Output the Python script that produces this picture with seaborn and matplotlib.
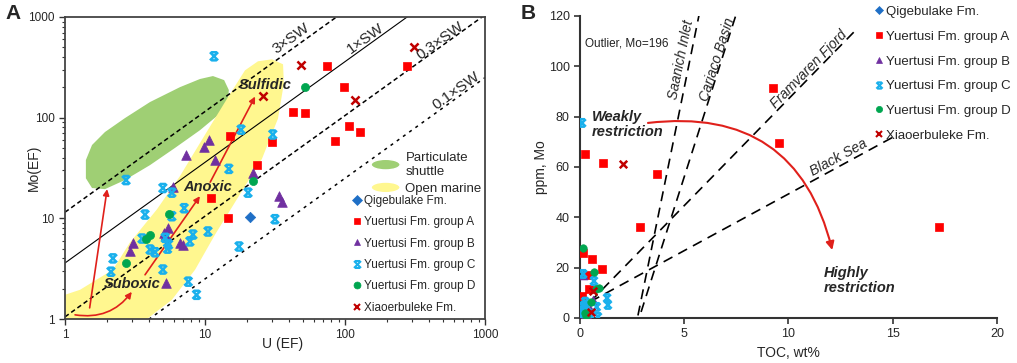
import numpy as np
import matplotlib
matplotlib.use("Agg")
import matplotlib.pyplot as plt
import seaborn as sns
from matplotlib.path import Path
from matplotlib.markers import MarkerStyle
from matplotlib.patches import Polygon, Ellipse
from matplotlib.lines import Line2D
from matplotlib.legend_handler import HandlerPatch
from matplotlib.ticker import FuncFormatter, LogLocator, NullFormatter

sns.set_style("ticks")
plt.rcParams["font.family"] = ["Liberation Sans", "DejaVu Sans"]

# ---------------- Panel A: U(EF) vs Mo(EF) ----------------
qige_a_u = [21, 5.3]
qige_a_mo = [10.2, 6.2]
grpA_a_u = [15.1, 23.5, 11.0, 14.6, 30, 42.4, 52, 74, 98, 106, 128, 85, 276]
grpA_a_mo = [66, 34, 15.8, 10.0, 57, 114, 112, 324, 203, 83, 72, 59, 324]
grpB_a_u = [7.3, 9.8, 10.7, 11.8, 22, 5.9, 33.8, 35.5, 5.45, 5.1, 6.6, 7.0, 3.06, 2.9, 5.3]
grpB_a_mo = [43, 51, 60, 38, 28, 20.4, 16.6, 14.4, 8.1, 7.2, 5.75, 5.4, 5.75, 4.7, 2.3]
grpC_a_u = [11.6, 18.1, 14.8, 30.5, 2.73, 5.0, 5.8, 3.73, 5.8, 7.1, 2.2, 2.13, 3.55, 4.05,
            4.4, 5.2, 5.4, 5.5, 5.0, 7.6, 8.7, 7.8, 8.2, 10.5, 17.5, 20.3, 31.6]
grpC_a_mo = [407, 76, 31, 68, 24, 20, 18, 10.9, 10.5, 12.6, 4.0, 2.95, 6.3, 4.9,
             4.6, 6.4, 5.0, 5.5, 3.1, 2.35, 1.74, 5.9, 6.9, 7.4, 5.25, 18, 9.8]
grpD_a_u = [5.55, 4.05, 3.8, 2.73, 22, 52]
grpD_a_mo = [11, 6.9, 6.2, 3.6, 23.4, 200]
xiao_a_u = [48.5, 310, 118, 26]
xiao_a_mo = [330, 500, 150, 165]

# seawater Mo/U reference lines
sw_ratios = [11.5, 3.6, 1.05, 0.25]
sw_labels = ["3×SW", "1×SW", "0.3×SW", "0.1×SW"]
sw_label_pos = [(41, 617), (141, 617), (478, 575), (619, 186)]

# outline of the particulate shuttle field (U, Mo)
shuttle_u = [14.6, 12.4, 9.2, 6.1, 4.05, 2.68, 1.93, 1.56, 1.41, 1.41, 1.56, 1.93, 2.68,
             4.05, 6.63, 9.2, 11.4, 13.7, 14.8]
shuttle_mo = [150, 106, 75, 50, 33.8, 24, 19.5, 20, 25, 37.9, 53.5, 72, 99,
              143, 201, 242, 259, 236, 188]
# outline of the open marine field (U, Mo)
marine_u = [1, 1, 1.28, 2.2, 2.91, 4.54, 6.63, 10.3, 14.4, 19.3, 23.9, 30.1, 36.1, 36.6,
            33.2, 25.5, 17.8, 11.8, 8.5, 5.8, 3.85]
marine_mo = [1, 1.74, 1.95, 3.09, 5.75, 12.3, 26.3, 72.4, 155, 295, 363, 380, 339, 219,
             97.7, 38.9, 17.4, 6.9, 3.09, 1.55, 1]

# ---------------- Panel B: TOC vs Mo ----------------
qige_b_toc = [0.1, 0.18]
qige_b_mo = [2.5, 6]
grpA_b_toc = [0.24, 1.1, 3.7, 2.88, 0.15, 0.57, 1.06, 0.38, 0.43, 0.1, 9.25, 9.55, 17.2]
grpA_b_mo = [65.2, 61.5, 57.3, 36.1, 25.7, 23.4, 19.5, 17.1, 11.5, 8.7, 91.3, 69.5, 36.1]
grpB_b_toc = [0.15, 0.35, 0.5, 0.6, 0.2]
grpB_b_mo = [17, 1, 3.5, 7, 0.5]
grpC_b_toc = [0.1, 0.15, 0.67, 1.3, 1.34, 0.8, 0.86, 0.1, 0.15, 0.2, 0.25, 0.3, 0.12, 0.4,
              0.05, 0.35, 0.2, 0.55]
grpC_b_mo = [77.5, 17.5, 14.7, 7.9, 5.2, 4.4, 0.4, 1, 3, 5, 6.5, 2, 0.3, 1.2, 4, 4.5, 0.8, 0.5]
grpD_b_toc = [0.15, 0.67, 0.91, 0.77, 0.53, 0.24, 0.3]
grpD_b_mo = [27.8, 18.3, 11.9, 11.5, 6.4, 2.0, 0.8]
xiao_b_toc = [2.06, 0.62, 0.53]
xiao_b_mo = [61.2, 10.7, 2.4]

# Mo/TOC trend lines of modern anoxic basins: (start, end)
basin_names = ["Saanich Inlet", "Cariaco Basin", "Framvaren Fjord", "Black Sea"]
basin_start = [(2.78, 1), (2.93, 2.4), (0.5, 6.5), (0.5, 6.5)]
basin_end = [(5.71, 120.4), (7.48, 120.4), (13.3, 115), (15.2, 72.7)]
basin_label_pos = [(4.84, 102.5), (6.57, 102.9), (11.0, 98.9), (12.4, 63.6)]

# ---------------- styles ----------------
RED = "#ff0000"
star_path = Path([(-1, -1), (1, 1), (-1, 1), (1, -1), (-0.7, 1), (0.7, 1), (-0.7, -1), (0.7, -1)],
                 [Path.MOVETO, Path.LINETO] * 4)
star = MarkerStyle(star_path, fillstyle="none")

group_names = ["Qigebulake Fm.", "Yuertusi Fm. group A", "Yuertusi Fm. group B",
               "Yuertusi Fm. group C", "Yuertusi Fm. group D", "Xiaoerbuleke Fm."]
group_style = {
    "Qigebulake Fm.": ("D", "#1f6fc6", 28, True),
    "Yuertusi Fm. group A": ("s", RED, 38, True),
    "Yuertusi Fm. group B": ("^", "#7030a0", 48, True),
    "Yuertusi Fm. group C": (star, "#1ab0ec", 34, False),
    "Yuertusi Fm. group D": ("o", "#00a650", 34, True),
    "Xiaoerbuleke Fm.": ("x", "#c00000", 34, False),
}


def draw_groups(ax, xs_list, ys_list, scale):
    for name, xs, ys in zip(group_names, xs_list, ys_list):
        mk, col, s, filled = group_style[name]
        kw = dict(edgecolor=col, linewidth=0.5) if filled else dict(linewidth=1.8)
        sns.scatterplot(x=xs, y=ys, ax=ax, marker=mk, color=col, s=s * scale,
                        zorder=5, legend=False, **kw)


def group_handles(ms):
    hs = []
    for name in group_names:
        mk, col, s, filled = group_style[name]
        hs.append(Line2D([], [], linestyle="none", marker=mk, color=col, markeredgecolor=col,
                         markersize=ms, markeredgewidth=1.5 if not filled else 0.5))
    return hs


def make_ellipse(legend, orig_handle, xdescent, ydescent, width, height, fontsize):
    return Ellipse(xy=(0.5 * width - xdescent, 0.5 * height - ydescent),
                   width=width, height=height * 0.9)


fig = plt.figure(figsize=(10.17, 3.63), dpi=100)
axA = fig.add_axes([0.0639, 0.1212, 0.413, 0.832])
axB = fig.add_axes([0.5703, 0.124, 0.41, 0.832])

# ---------- Panel A ----------
axA.set_xscale("log")
axA.set_yscale("log")
axA.set_xlim(1, 1000)
axA.set_ylim(1, 1000)

axA.add_patch(Polygon(list(zip(shuttle_u, shuttle_mo)), closed=True, facecolor="#9fcf74",
                      edgecolor="none", zorder=1))
axA.add_patch(Polygon(list(zip(marine_u, marine_mo)), closed=True, facecolor="#fff78f",
                      edgecolor="none", zorder=1))

u_line = np.array([1, 1000])
sw_dash = [(0, (3, 2)), "-", (0, (3, 2)), (0, (2, 3))]
for r, ls in zip(sw_ratios, sw_dash):
    axA.plot(u_line, r * u_line, color="black", lw=1.1 if ls != "-" else 0.8, ls=ls, zorder=2)

axA.figure.canvas.draw()
p0 = axA.transData.transform((1, 1))
p1 = axA.transData.transform((10, 10))
ang = np.degrees(np.arctan2(p1[1] - p0[1], p1[0] - p0[0]))
for lab, (x, y) in zip(sw_labels, sw_label_pos):
    axA.text(x, y, lab, rotation=ang, rotation_mode="anchor", ha="center", va="center",
             fontsize=11, zorder=6)

arrow_kw = dict(arrowstyle="-|>", color="#e0201b", lw=1.2, mutation_scale=9, shrinkA=0, shrinkB=0)
axA.annotate("", xy=(3.0, 1.86), xytext=(1.18, 1.1),
             arrowprops=dict(connectionstyle="arc3,rad=0.3", **arrow_kw), zorder=4)
axA.annotate("", xy=(2.0, 19.5), xytext=(1.5, 1.29), arrowprops=arrow_kw, zorder=4)
axA.annotate("", xy=(9.2, 16.6), xytext=(3.73, 2.75), arrowprops=arrow_kw, zorder=4)
axA.annotate("", xy=(22.8, 162), xytext=(10.9, 22.9), arrowprops=arrow_kw, zorder=4)

for lab, (x, y) in zip(["Sulfidic", "Anoxic", "Suboxic"], [(26.8, 209), (10.5, 20.4), (3.0, 2.24)]):
    axA.text(x, y, lab, ha="center", va="center", fontsize=10.5, fontweight="bold",
             fontstyle="italic", zorder=7)

draw_groups(axA, [qige_a_u, grpA_a_u, grpB_a_u, grpC_a_u, grpD_a_u, xiao_a_u],
            [qige_a_mo, grpA_a_mo, grpB_a_mo, grpC_a_mo, grpD_a_mo, xiao_a_mo], 1.0)

axA.xaxis.set_major_locator(LogLocator(base=10, numticks=10))
axA.yaxis.set_major_locator(LogLocator(base=10, numticks=10))
axA.xaxis.set_minor_locator(LogLocator(base=10, subs=np.arange(2, 10), numticks=20))
axA.yaxis.set_minor_locator(LogLocator(base=10, subs=np.arange(2, 10), numticks=20))
fmt = FuncFormatter(lambda v, p: f"{v:g}")
axA.xaxis.set_major_formatter(fmt)
axA.yaxis.set_major_formatter(fmt)
axA.xaxis.set_minor_formatter(NullFormatter())
axA.yaxis.set_minor_formatter(NullFormatter())
axA.tick_params(which="major", length=4, width=1, labelsize=8.5, color="#333333")
axA.tick_params(which="minor", length=2.5, width=0.8, color="#333333")
for sp in axA.spines.values():
    sp.set_linewidth(1.3)
    sp.set_color("#444444")
axA.set_xlabel("U (EF)", fontsize=10)
axA.set_ylabel("Mo(EF)", fontsize=10)
axA.xaxis.set_label_coords(0.519, -0.06)
axA.yaxis.set_label_coords(-0.057, 0.5)

patch_handles = [Ellipse((0, 0), 1, 1, facecolor="#9fcf74"), Ellipse((0, 0), 1, 1, facecolor="#fff78f")]
legA1 = axA.legend(patch_handles, ["Particulate\nshuttle", "Open marine"], loc="upper left",
                   bbox_to_anchor=(0.71, 0.58), frameon=False, fontsize=9.5, handlelength=2.2,
                   handleheight=1.0, handletextpad=0.4, labelspacing=0.3, borderpad=0.1,
                   handler_map={Ellipse: HandlerPatch(patch_func=make_ellipse)})
axA.add_artist(legA1)
axA.legend(group_handles(5), group_names, loc="upper left", bbox_to_anchor=(0.67, 0.435),
           frameon=False, fontsize=8.5, handlelength=0.6, handletextpad=0.3,
           labelspacing=0.8, borderpad=0.1)

# ---------- Panel B ----------
axB.set_xlim(0, 20)
axB.set_ylim(0, 120)
for name, (x0, y0), (x1, y1) in zip(basin_names, basin_start, basin_end):
    axB.plot([x0, x1], [y0, y1], color="black", lw=1.2, ls=(0, (6, 4)), zorder=2)

fig.canvas.draw()
for name, (x0, y0), (x1, y1), (tx, ty) in zip(basin_names, basin_start, basin_end, basin_label_pos):
    q0 = axB.transData.transform((x0, y0))
    q1 = axB.transData.transform((x1, y1))
    a = np.degrees(np.arctan2(q1[1] - q0[1], q1[0] - q0[0]))
    axB.text(tx, ty, name, rotation=a, rotation_mode="anchor", ha="center", va="center",
             fontsize=10, fontstyle="italic", zorder=6)

axB.annotate("", xy=(12.1, 27), xytext=(3.26, 77.5),
             arrowprops=dict(arrowstyle="-|>", color="#e0201b", lw=1.5, mutation_scale=12,
                             shrinkA=0, shrinkB=0, connectionstyle="arc3,rad=-0.44"), zorder=4)

draw_groups(axB, [qige_b_toc, grpA_b_toc, grpB_b_toc, grpC_b_toc, grpD_b_toc, xiao_b_toc],
            [qige_b_mo, grpA_b_mo, grpB_b_mo, grpC_b_mo, grpD_b_mo, xiao_b_mo], 0.85)

axB.text(0.25, 109, "Outlier, Mo=196", fontsize=8.5, ha="left", va="center", color="#222222")
axB.text(0.58, 76.7, "Weakly\nrestriction", fontsize=10.5, fontweight="bold", fontstyle="italic",
         ha="left", va="center", linespacing=1.1)
axB.text(11.7, 15, "Highly\nrestriction", fontsize=10.5, fontweight="bold", fontstyle="italic",
         ha="left", va="center", linespacing=1.1)

axB.set_xticks([0, 5, 10, 15, 20])
axB.set_yticks([0, 20, 40, 60, 80, 100, 120])
axB.tick_params(length=4, width=1.2, labelsize=9, color="#333333")
sns.despine(ax=axB)
for sp in ["left", "bottom"]:
    axB.spines[sp].set_linewidth(1.5)
    axB.spines[sp].set_color("#333333")
axB.set_xlabel("TOC, wt%", fontsize=10, labelpad=4)
axB.set_ylabel("ppm, Mo", fontsize=10)
axB.yaxis.set_label_coords(-0.077, 0.5)
axB.legend(group_handles(4.5), group_names, loc="upper left", bbox_to_anchor=(0.69, 1.06),
           frameon=False, fontsize=9.5, handlelength=0.5, handletextpad=0.3,
           labelspacing=0.95, borderpad=0.1)

fig.text(5 / 1017, 1 - 4 / 363, "A", fontsize=15, fontweight="bold", ha="left", va="top")
fig.text(521 / 1017, 1 - 4 / 363, "B", fontsize=15, fontweight="bold", ha="left", va="top")

fig.savefig("out.png", dpi=100)
